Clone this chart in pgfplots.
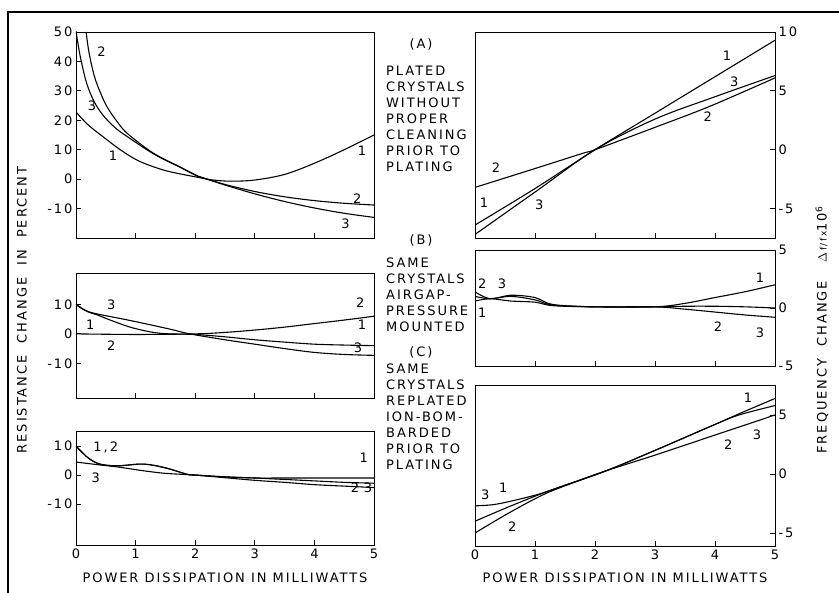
\documentclass[border=0pt]{standalone}
\usepackage{pgfplots}
\pgfplotsset{compat=1.18}
\usepackage{fontspec}
\setmainfont{DejaVu Sans}
\newfontfamily\lett[LetterSpace=15]{DejaVu Sans}
\newcommand\lf{\lett\fontsize{13}{15}\selectfont}
\tikzset{lab/.style={font=\lf, inner sep=0pt}}
\begin{document}
\begin{tikzpicture}[x=1pt,y=1pt,font=\lf]
\path[use as bounding box] (0pt,0pt) rectangle (839pt,-593pt);
\draw[line width=1.6pt] (8pt,-593pt) -- (8pt,-12pt) -- (839pt,-12pt);
\pgfplotsset{
  panel/.style={scale only axis, anchor=south west, xmin=0, xmax=5,
    axis line style={line width=0.9pt},
    every tick/.style={line width=0.8pt, black},
    major tick length=5pt, tick align=inside,
    xtick={1,2,3,4}, xticklabels={}, xtick pos=bottom,
    tick label style={font=\lf},
    every axis plot post/.append style={line width=1.1pt, black, smooth, mark=none, tension=0.55},
    clip=true},
  lpanel/.style={panel, width=298pt, ytick pos=left},
  rpanel/.style={panel, width=300pt, ytick pos=right, yticklabel pos=right},
}
% ---------- Left A ----------
\begin{axis}[lpanel, at={(76pt,-238pt)}, height=206pt, ymin=-20, ymax=50,
  ytick={-10,0,10,20,30,40,50}, yticklabels={-10,0,10,20,30,40,50}]
\addplot coordinates {(0,22.8)(0.2,18.5)(0.46,14.3)(0.75,9.9)(1.02,6.5)(1.3,4.2)(1.58,2.5)(2.05,0.6)(2.3,-0.3)(2.6,-0.7)(3,-0.3)(3.5,1.6)(4,5.4)(4.5,10)(5,15)};
\addplot coordinates {(0.17,50)(0.21,44)(0.27,38)(0.35,32.4)(0.51,25)(0.71,19)(0.88,15.2)(1.3,8.8)(1.74,4.2)(2.05,1)(2.2,0)(2.5,-1.8)(3,-4.2)(3.5,-6)(4,-7.3)(4.5,-8.2)(5,-8.8)};
\addplot coordinates {(0,50.3)(0.05,44)(0.1,39)(0.18,32.5)(0.3,26.5)(0.45,21.8)(0.65,17.6)(0.85,14.6)(1.3,8.6)(1.74,4.1)(2.05,0.9)(2.2,0)(2.5,-2)(3,-5)(3.5,-7.6)(4,-9.8)(4.5,-11.6)(5,-13)};
\node[lab] at (axis cs:0.43,43.2) {2};
\node[lab] at (axis cs:0.27,25) {3};
\node[lab] at (axis cs:0.62,8) {1};
\node[lab] at (axis cs:4.8,9.5) {1};
\node[lab] at (axis cs:4.72,-6.5) {2};
\node[lab] at (axis cs:4.52,-15) {3};
\end{axis}
% ---------- Left B ----------
\begin{axis}[lpanel, at={(76pt,-398pt)}, height=125pt, ymin=-21.8, ymax=20.7,
  ytick={-10,0,10}, yticklabels={-10,0,10}]
\addplot coordinates {(0,10)(0.2,7.5)(0.35,6.5)(0.6,4.5)(0.96,2)(1.41,0.2)(2,-0.2)(2.5,-1)(3,-2)(3.5,-2.8)(4,-3.5)(4.5,-3.8)(5,-4)};
\addplot coordinates {(0,0)(1,-0.2)(2,0)(2.5,0.5)(3,1.3)(3.5,2.3)(4,3.5)(4.5,4.7)(5,6)};
\addplot coordinates {(0,10)(0.15,8)(0.35,6.8)(0.8,5)(1.2,3.3)(1.6,1.5)(1.91,0)(2.5,-2)(3,-3.5)(3.5,-5)(4,-6.3)(4.5,-7)(5,-7.3)};
\node[lab] at (axis cs:0.59,9.8) {3};
\node[lab] at (axis cs:0.24,3) {1};
\node[lab] at (axis cs:0.59,-4) {2};
\node[lab] at (axis cs:4.77,10.5) {2};
\node[lab] at (axis cs:4.8,3) {1};
\node[lab] at (axis cs:4.73,-4.8) {3};
\end{axis}
% ---------- Left C ----------
\begin{axis}[lpanel, at={(76pt,-545pt)}, height=114pt, ymin=-24.1, ymax=15.2,
  ytick={-10,0,10}, yticklabels={-10,0,10},
  xtick={0,1,2,3,4,5}, xticklabels={0,1,2,3,4,5}]
\addplot coordinates {(0,10)(0.2,6)(0.4,3.8)(0.7,3.2)(1.13,3.8)(1.5,2.5)(1.86,0.3)(2,0)(2.5,-0.6)(3,-1)(3.5,-1)(4,-1)(4.5,-1)(5,-1)};
\addplot coordinates {(0,10)(0.2,6)(0.4,3.8)(0.7,3.2)(1.13,3.8)(1.5,2.5)(1.86,0.3)(2,0)(2.5,-0.6)(3,-1)(3.5,-1.5)(4,-2)(4.5,-2.5)(5,-2.8)};
\addplot coordinates {(0,4.5)(0.4,3.5)(0.7,2.8)(1.13,1.5)(1.5,0.6)(2,0)(2.5,-0.9)(3,-1.8)(3.5,-2.5)(4,-3.3)(4.5,-3.8)(5,-4.3)};
\node[lab] at (axis cs:0.5,9.7) {1,\,2};
\node[lab] at (axis cs:0.33,-1) {3};
\node[lab] at (axis cs:4.83,5.9) {1};
\node[lab] at (axis cs:4.68,-4.5) {2};
\node[lab] at (axis cs:4.9,-4.5) {3};
\end{axis}
% ---------- Right A ----------
\begin{axis}[rpanel, at={(475pt,-238pt)}, height=206pt, ymin=-7.5, ymax=10,
  ytick={-5,0,5,10}, yticklabels={-5,0,5,10}]
\addplot coordinates {(0,-6.4)(1,-3.3)(2,0)(3,3.1)(4,6.2)(5,9.3)};
\addplot coordinates {(0,-3.2)(1,-1.6)(1.8,-0.3)(2,0)(3,1.9)(3.92,3.7)(5,6.1)};
\addplot coordinates {(0,-7.2)(1,-3.6)(2,0)(3,2.6)(4,4.5)(5,6.3)};
\node[lab] at (axis cs:4.2,8) {1};
\node[lab] at (axis cs:4.32,5.8) {3};
\node[lab] at (axis cs:3.88,2.8) {2};
\node[lab] at (axis cs:0.35,-1.5) {2};
\node[lab] at (axis cs:0.15,-4.5) {1};
\node[lab] at (axis cs:1.07,-4.7) {3};
\end{axis}
% ---------- Right B ----------
\begin{axis}[rpanel, at={(475pt,-366pt)}, height=116pt, ymin=-5, ymax=5,
  ytick={-5,0,5}, yticklabels={-5,0,5}]
\addplot coordinates {(0,0.6)(0.25,0.8)(0.6,0.6)(1.0,0.5)(1.3,0.2)(2,0.1)(3,0.1)(3.5,0.4)(4,0.9)(4.5,1.4)(5,2.0)};
\addplot coordinates {(0,1.4)(0.25,0.8)(0.6,1.1)(1.0,0.9)(1.3,0.3)(2,0.1)(3,0.1)(3.5,0.15)(4,0.15)(4.5,0.1)(5,0)};
\addplot coordinates {(0,1.0)(0.25,0.8)(0.6,1.0)(1.0,0.7)(1.3,0.25)(2,0.1)(3,0.1)(3.5,-0.1)(4,-0.35)(4.5,-0.6)(5,-0.8)};
\node[lab] at (axis cs:0.12,2.1) {2};
\node[lab] at (axis cs:0.45,2.1) {3};
\node[lab] at (axis cs:0.12,-0.4) {1};
\node[lab] at (axis cs:4.75,2.6) {1};
\node[lab] at (axis cs:4.05,-1.6) {2};
\node[lab] at (axis cs:4.75,-2.1) {3};
\end{axis}
% ---------- Right C ----------
\begin{axis}[rpanel, at={(475pt,-546pt)}, height=161pt, ymin=-6.1, ymax=7.54,
  ytick={-5,0,5}, yticklabels={-5,0,5},
  xtick={0,1,2,3,4,5}, xticklabels={0,1,2,3,4,5}]
\addplot coordinates {(0,-4.0)(0.6,-2.7)(1.25,-1.4)(2.2,0.3)(3,2.0)(4,4.2)(4.4,5.1)(5,6.4)};
\addplot coordinates {(0,-5.0)(0.6,-3.2)(1.25,-1.5)(2.2,0.3)(3,2.0)(4,4.2)(4.4,5.0)(5,5.8)};
\addplot coordinates {(0,-2.7)(0.3,-2.6)(0.6,-2.3)(1.0,-1.8)(1.25,-1.4)(1.7,-0.6)(2.2,0.3)(3,1.6)(4,3.3)(5,5.0)};
\node[lab] at (axis cs:4.55,6.5) {1};
\node[lab] at (axis cs:4.7,3.3) {3};
\node[lab] at (axis cs:4.22,2.5) {2};
\node[lab] at (axis cs:0.17,-1.8) {3};
\node[lab] at (axis cs:0.47,-1.2) {1};
\node[lab] at (axis cs:0.62,-4.5) {2};
\end{axis}
% ---------- titles ----------
\node[lab] at (225pt,-578pt) {POWER DISSIPATION IN MILLIWATTS};
\node[lab] at (625pt,-578pt) {POWER DISSIPATION IN MILLIWATTS};
\node[lab, rotate=90] at (22pt,-310pt) {RESISTANCE\ \ CHANGE\ \ IN\ \ PERCENT};
\node[lab, rotate=90] at (822pt,-330pt) {FREQUENCY\ \ CHANGE\ \ \ $\Delta$\,{\fontsize{9}{10}\selectfont f/f}\,{\fontsize{9}{10}\selectfont x}10\textsuperscript{6}};
% ---------- middle text ----------
\node[lab] at (421pt,-44pt) {(A)};
\node[lab, anchor=north west, align=left, font=\lett\fontsize{13}{16}\selectfont] at (386pt,-66pt) {PLATED\\CRYSTALS\\WITHOUT\\PROPER\\CLEANING\\PRIOR TO\\PLATING};
\node[lab] at (421pt,-240pt) {(B)};
\node[lab, anchor=north west, align=left, font=\lett\fontsize{13}{16}\selectfont] at (386pt,-258pt) {SAME\\CRYSTALS\\AIRGAP-\\PRESSURE\\MOUNTED};
\node[lab] at (421pt,-352pt) {(C)};
\node[lab, anchor=north west, align=left, font=\lett\fontsize{13}{16}\selectfont] at (386pt,-364pt) {SAME\\CRYSTALS\\REPLATED\\ION-BOM-\\BARDED\\PRIOR TO\\PLATING};
\end{tikzpicture}
\end{document}
